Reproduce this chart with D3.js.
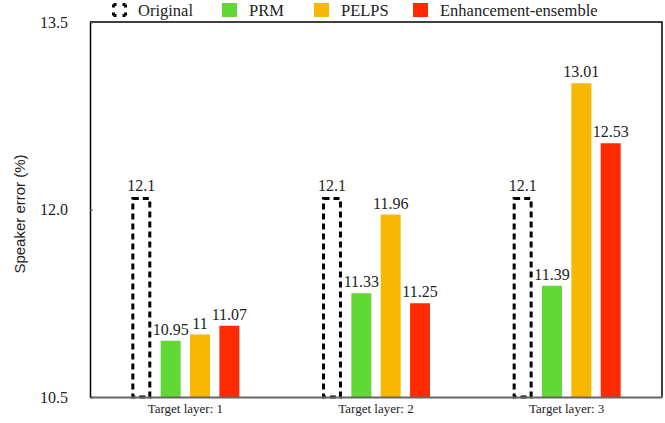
<!DOCTYPE html>
<html>
<head>
<meta charset="utf-8">
<script src="https://cdn.jsdelivr.net/npm/d3@7/dist/d3.min.js"></script>
<style>
  body { margin: 0; background: #fff; }
  svg { display: block; }
  .serif { font-family: "Liberation Serif", "Times New Roman", Times, serif; }
  .sans { font-family: "Liberation Sans", Arial, Helvetica, sans-serif; }
</style>
</head>
<body>
<svg id="chart" width="665" height="423"></svg>
<script>
// Speaker error (%) per target layer for each method
const groups = ["Target layer: 1", "Target layer: 2", "Target layer: 3"];
const seriesNames = ["Original", "PRM", "PELPS", "Enhancement-ensemble"];
const original = [12.1, 12.1, 12.1];
const prm = [10.95, 11.33, 11.39];
const pelps = [11, 11.96, 13.01];
const ensemble = [11.07, 11.25, 12.53];
const yTicks = [10.5, 12.0, 13.5];

const seriesValues = [original, prm, pelps, ensemble];
const colors = ["none", "#62d836", "#f6b800", "#ff2a00"];

const svg = d3.select("#chart");
const margin = { top: 22, right: 3, bottom: 26, left: 90 };
const W = 665, H = 423;
const plotW = W - margin.left - margin.right;
const plotH = H - margin.top - margin.bottom;

const g = svg.append("g").attr("transform", `translate(${margin.left},${margin.top})`);

const x0 = d3.scaleBand().domain(groups).range([0, plotW]);
const x1 = d3.scaleBand().domain(seriesNames).range([-54, 54]).paddingInner(0.32);
const y = d3.scaleLinear().domain([10.5, 13.5]).range([plotH, 0]);

// frame (top and right)
g.append("path")
  .attr("d", `M0,0H${plotW}V${plotH}`)
  .attr("fill", "none").attr("stroke", "#000").attr("stroke-width", 1.5);

// bars
const rows = groups.map((grp, i) => ({ grp, vals: seriesNames.map((s, j) => ({ s, j, v: seriesValues[j][i] })) }));
const grpSel = g.selectAll("g.grp").data(rows).join("g")
  .attr("class", "grp")
  .attr("transform", d => `translate(${x0(d.grp) + x0.bandwidth() / 2},0)`);

grpSel.selectAll("rect").data(d => d.vals).join("rect")
  .attr("x", d => x1(d.s) + (d.j === 0 ? 1.5 : 0))
  .attr("width", d => x1.bandwidth() - (d.j === 0 ? 3 : 0))
  .attr("y", d => y(d.v) + (d.j === 0 ? 1.5 : 0))
  .attr("height", d => plotH - y(d.v) - (d.j === 0 ? 1.5 : 0))
  .attr("fill", d => d.j === 0 ? "none" : colors[d.j])
  .attr("stroke", d => d.j === 0 ? "#000" : "none")
  .attr("stroke-width", 3)
  .attr("stroke-dasharray", d => d.j === 0 ? "6,4" : null);

grpSel.selectAll("text.val").data(d => d.vals).join("text")
  .attr("class", "val serif")
  .attr("x", d => x1(d.s) + x1.bandwidth() / 2)
  .attr("y", d => y(d.v) - 6)
  .attr("text-anchor", "middle")
  .style("font-size", "16px")
  .attr("fill", "#222")
  .text(d => d.v);

// y axis
const yAxis = g.append("g")
  .call(d3.axisLeft(y).tickValues(yTicks).tickFormat(d3.format(".1f")).tickSize(-3).tickPadding(22));
yAxis.attr("font-family", null);
yAxis.select(".domain").attr("stroke", "#000").attr("stroke-width", 1.5);
yAxis.selectAll(".tick line").attr("stroke", "#555");
yAxis.selectAll(".tick text")
  .attr("class", "serif")
  .style("font-size", "16px").attr("fill", "#222");

// x axis
const xAxis = g.append("g").attr("transform", `translate(0,${plotH})`)
  .call(d3.axisBottom(x0).tickSize(0).tickPadding(7));
xAxis.attr("font-family", null);
xAxis.select(".domain").attr("stroke", "#666").attr("stroke-width", 2);
xAxis.selectAll(".tick text")
  .attr("class", "serif")
  .style("font-size", "13px").attr("fill", "#222");

// y axis title
svg.append("text")
  .attr("class", "sans")
  .attr("transform", `translate(25,214) rotate(-90)`)
  .attr("text-anchor", "middle")
  .style("font-size", "15px").attr("fill", "#222")
  .text("Speaker error (%)");

// legend
const legendX = [112, 222, 314, 413];
const legend = svg.append("g");
seriesNames.forEach((s, j) => {
  const lg = legend.append("g").attr("transform", `translate(${legendX[j]},3)`);
  if (j === 0) {
    lg.append("rect").attr("x", 1.5).attr("y", 1.5).attr("width", 12).attr("height", 11)
      .attr("fill", "none").attr("stroke", "#000").attr("stroke-width", 3)
      .attr("stroke-dasharray", "3,6,3,0,3,5,3,0");
  } else {
    lg.append("rect").attr("width", 15).attr("height", 14).attr("fill", colors[j]);
  }
  lg.append("text").attr("class", "serif").attr("x", j === 0 ? 26 : 27).attr("y", 13)
    .style("font-size", "16.5px").attr("fill", "#222")
    .text(s);
});
</script>
</body>
</html>
